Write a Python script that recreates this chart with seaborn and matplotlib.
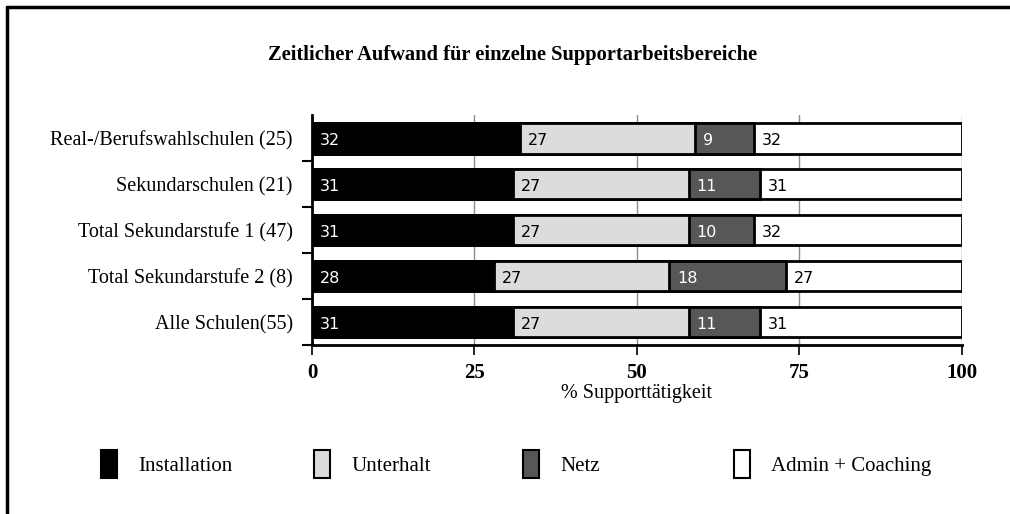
import numpy as np
import pandas as pd
import matplotlib.pyplot as plt
import seaborn as sns
from matplotlib.patches import Patch
from matplotlib.lines import Line2D

# ---------------------------------------------------------------------------
# DATA
# ---------------------------------------------------------------------------
schools = [
    "Real-/Berufswahlschulen (25)",
    "Sekundarschulen (21)",
    "Total Sekundarstufe 1 (47)",
    "Total Sekundarstufe 2 (8)",
    "Alle Schulen(55)",
]
installation = [32, 31, 31, 28, 31]
unterhalt = [27, 27, 27, 27, 27]
netz = [9, 11, 10, 18, 11]
admin = [32, 31, 32, 27, 31]

series = ["Installation", "Unterhalt", "Netz", "Admin + Coaching"]
colors = ["#000000", "#dcdcdc", "#575757", "#ffffff"]
text_colors = ["white", "black", "white", "black"]

title = "Zeitlicher Aufwand für einzelne Supportarbeitsbereiche"
xlabel = "% Supporttätigkeit"
xticks = [0, 25, 50, 75, 100]

# ---------------------------------------------------------------------------
# PLOT
# ---------------------------------------------------------------------------
sns.set_theme(style="white")
plt.rcParams["font.family"] = ["Liberation Serif", "DejaVu Serif"]
plt.rcParams.update({"text.color": "black", "axes.labelcolor": "black",
                     "xtick.color": "black", "ytick.color": "black"})

df = pd.DataFrame({"school": schools, "Installation": installation,
                   "Unterhalt": unterhalt, "Netz": netz,
                   "Admin + Coaching": admin})
cum = df[series].cumsum(axis=1)

fig = plt.figure(figsize=(10.1, 5.14), dpi=100)
ax = fig.add_axes([0.309, 0.329, 0.643, 0.447])

# stacked bars: draw cumulative totals from longest to shortest
for name, col in reversed(list(zip(series, colors))):
    sns.barplot(x=cum[name], y=df["school"], orient="h", ax=ax,
                color=col, edgecolor="black", linewidth=2, width=0.67,
                saturation=1)

# value labels at the start of each segment
for i in range(len(schools)):
    for name, tc in zip(series, text_colors):
        start = cum.loc[i, name] - df.loc[i, name]
        ax.text(start + 1.2, i + 0.05, f"{df.loc[i, name]}", color=tc,
                va="center", ha="left", fontsize=11.5, family="DejaVu Sans")

ax.set_xlim(0, 100)
ax.set_ylim(len(schools) - 0.5, -0.5)
ax.set_xticks(xticks)
ax.set_xticklabels([str(t) for t in xticks], fontsize=15, fontweight="bold")
ax.set_xlabel(xlabel, fontsize=14.5, labelpad=1)
ax.set_ylabel("")
ax.tick_params(axis="y", which="major", length=0, labelsize=14.5, pad=14)
ax.set_yticks(np.arange(0.5, len(schools)), minor=True)
ax.tick_params(axis="y", which="minor", length=7, width=1.5, color="black",
               left=True, direction="out")
ax.tick_params(axis="x", which="major", length=7, width=1.2, color="black",
               bottom=True, direction="out", pad=6)

ax.grid(axis="x", color="#8c8c8c", linewidth=1)
ax.set_axisbelow(True)
for sp in ["top", "right"]:
    ax.spines[sp].set_visible(False)
for sp in ["left", "bottom"]:
    ax.spines[sp].set_color("black")
    ax.spines[sp].set_linewidth(2)

fig.text(0.507, 0.893, title, ha="center", va="center", fontsize=14.8,
         fontweight="bold")

# legend: one entry per slot, spaced evenly
legend_x = [0.081, 0.292, 0.499, 0.708]
for name, col, lx in zip(series, colors, legend_x):
    h = Patch(facecolor=col, edgecolor="black", linewidth=1.5)
    fig.legend(handles=[h], labels=[name], loc="center left",
               bbox_to_anchor=(lx, 0.097), frameon=False, fontsize=15,
               handlelength=0.8, handleheight=1.65, handletextpad=1.0)

# outer frame (left and top edges)
fig.add_artist(Line2D([0.007, 0.007], [0.0, 0.986], color="black",
                      linewidth=2.5, transform=fig.transFigure))
fig.add_artist(Line2D([0.007, 1.0], [0.986, 0.986], color="black",
                      linewidth=2.5, transform=fig.transFigure))

fig.savefig("out.png", dpi=100, facecolor="white")
